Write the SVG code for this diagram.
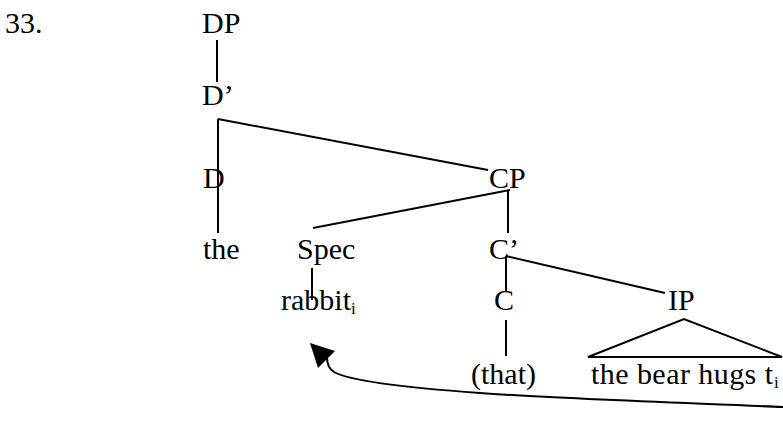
<svg xmlns="http://www.w3.org/2000/svg" width="783" height="434" viewBox="0 0 783 434">
  <style>
    text { font-family: "Liberation Serif", "Times New Roman", serif; font-size: 30px; fill: #000; }
    .sub { font-size: 17px; }
    .edge { stroke: #000; stroke-width: 2; fill: none; }
    .head { fill: #000; stroke: none; }
  </style>
  <rect width="783" height="434" fill="#fff"/>

  <text x="5" y="33">33.</text>

  <!-- tree branches -->
  <g id="connectors">
    <line class="edge" x1="217" y1="40" x2="217" y2="82"/>
    <line class="edge" x1="218" y1="119" x2="218" y2="233"/>
    <line class="edge" x1="218" y1="119" x2="488" y2="170"/>
    <line class="edge" x1="510" y1="190" x2="313" y2="228"/>
    <line class="edge" x1="508" y1="190" x2="508" y2="233"/>
    <line class="edge" x1="506" y1="256" x2="665" y2="293"/>
    <line class="edge" x1="506" y1="256" x2="506" y2="292"/>
    <line class="edge" x1="506" y1="320" x2="506" y2="356"/>
    <line class="edge" x1="312" y1="268" x2="312" y2="300"/>
    <!-- movement arrow from the trace back to rabbit -->
    <path class="edge" d="M783,407 C690,403 560,399 480,393 C410,388 352,382 334,372 C329,369 327,365 327,357"/>
    <path class="head" d="M310,343 L335,351 L318,368 Z"/>
  </g>

  <g id="DP"><text x="202" y="33">DP</text></g>
  <g id="Dbar"><text x="202" y="105">D’</text></g>
  <g id="D"><text x="203" y="188">D</text></g>
  <g id="the"><text x="203" y="259">the</text></g>
  <g id="CP"><text x="489" y="188">CP</text></g>
  <g id="Spec"><text x="297" y="259">Spec</text></g>
  <g id="Cbar"><text x="489" y="259">C’</text></g>
  <g id="rabbit"><text x="281" y="310">rabbit<tspan class="sub" dy="4">i</tspan></text></g>
  <g id="C"><text x="494" y="310">C</text></g>
  <g id="that"><text x="471" y="384">(that)</text></g>
  <g id="IP">
    <text x="668" y="310">IP</text>
    <path class="edge" d="M588,357 L684,319 L782,357 Z"/>
    <text x="591" y="384" textLength="182" lengthAdjust="spacing">the bear hugs t</text>
    <text class="sub" x="774" y="388">i</text>
  </g>
</svg>
